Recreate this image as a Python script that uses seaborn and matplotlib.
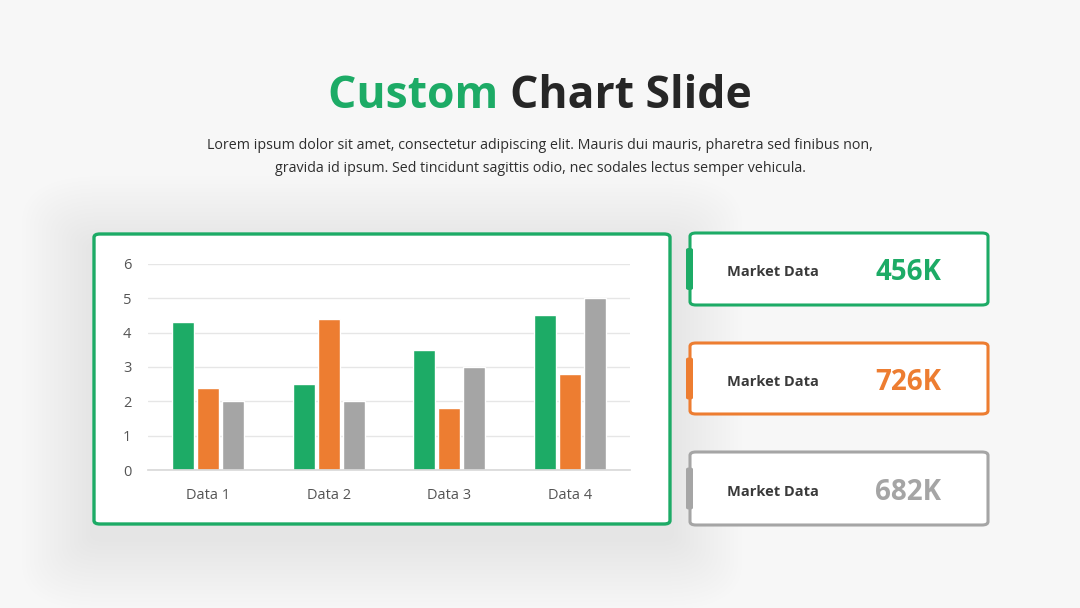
import seaborn as sns
import matplotlib.pyplot as plt
import pandas as pd
from matplotlib.patches import FancyBboxPatch

# data
categories = ['Data 1', 'Data 2', 'Data 3', 'Data 4']
series_names = ['Series 1', 'Series 2', 'Series 3']
series_1 = [4.3, 2.5, 3.5, 4.5]
series_2 = [2.4, 4.4, 1.8, 2.8]
series_3 = [2.0, 2.0, 3.0, 5.0]
card_labels = ['Market Data', 'Market Data', 'Market Data']
card_values = ['456K', '726K', '682K']

GREEN = '#1dab66'
ORANGE = '#ed7d31'
GRAY = '#a5a5a5'
colors = [GREEN, ORANGE, GRAY]

df = pd.DataFrame({
    'category': categories * 3,
    'series': [s for s in series_names for _ in categories],
    'value': series_1 + series_2 + series_3,
})

sns.set_theme(style='white')
plt.rcParams['font.family'] = ['Open Sans', 'DejaVu Sans']

W, H = 1080, 608
fig = plt.figure(figsize=(W / 100, H / 100), dpi=100)
fig.patch.set_facecolor('#f7f7f7')


def px(x, y):
    return x / W, 1 - y / H


def box(x0, y0, x1, y1, edge, lw=2.2, face='white', z=1, alpha=1.0, pad=6):
    p = FancyBboxPatch(px(x0, y1), (x1 - x0) / W, (y1 - y0) / H,
                       boxstyle=f'round,pad=0,rounding_size={pad / W}',
                       transform=fig.transFigure, facecolor=face,
                       edgecolor=edge, linewidth=lw, zorder=z, alpha=alpha)
    fig.patches.append(p)


# very soft shadow behind the chart card
for i in range(18):
    g = 4 + i * 4
    box(94 - g, 234 - g + 14, 670 + g, 524 + g + 14, 'none', lw=0,
        face='#000000', alpha=0.0035, pad=10 + g)

# chart card
box(94, 234, 670, 524, GREEN, lw=2.4, z=2)

# stat cards
card_rows = [(233, 305), (343, 414), (452, 525)]
for (y0, y1), c, lab, val in zip(card_rows, colors, card_labels, card_values):
    box(690, y0, 988, y1, c, lw=2.2, z=2)
    yc = (y0 + y1) / 2
    tab = FancyBboxPatch(px(686, yc + 21), 7 / W, 42 / H,
                         boxstyle=f'round,pad=0,rounding_size={3 / W}',
                         transform=fig.transFigure, facecolor=c,
                         edgecolor='none', zorder=3)
    fig.patches.append(tab)
    fig.text(*px(727, yc + 3), lab, fontsize=10.5, fontweight='bold',
             color='#3a3a3a', ha='left', va='center', zorder=4)
    fig.text(*px(941, yc + 4), val, fontsize=20, fontweight='bold',
             color=c, ha='right', va='center', zorder=4)

# bar chart
ax = fig.add_axes([148 / W, 1 - 470 / H, 482 / W, 206 / H])
ax.set_facecolor('white')
ax.set_zorder(5)
sns.barplot(data=df, x='category', y='value', hue='series',
            palette=colors, width=0.62, gap=0.12, saturation=1,
            legend=False, ax=ax)
ax.set_xlim(-0.5, 3.5)
ax.set_ylim(0, 6)
ax.set_yticks(range(0, 7))
ax.grid(axis='y', color='#e6e6e6', linewidth=1)
ax.set_axisbelow(True)
for s in ['top', 'right', 'left']:
    ax.spines[s].set_visible(False)
ax.spines['bottom'].set_color('#d9d9d9')
ax.tick_params(axis='both', length=0, labelsize=10.5, labelcolor='#555555')
ax.tick_params(axis='x', pad=13)
ax.tick_params(axis='y', pad=12)
ax.set_xlabel('')
ax.set_ylabel('')

# title in two colours, centred together
r = fig.canvas.get_renderer()
t1 = fig.text(0, 1 - 97 / H, 'Custom ', fontsize=32, fontweight='bold',
              color=GREEN, ha='left', va='center')
t2 = fig.text(0, 1 - 97 / H, 'Chart Slide', fontsize=32, fontweight='bold',
              color='#262626', ha='left', va='center')
w1 = t1.get_window_extent(r).width
w2 = t2.get_window_extent(r).width
x0 = (W - w1 - w2) / 2
t1.set_x(x0 / W)
t2.set_x((x0 + w1) / W)

fig.text(0.5, 1 - 146 / H,
         'Lorem ipsum dolor sit amet, consectetur adipiscing elit. Mauris dui mauris, pharetra sed finibus non,',
         fontsize=10.3, color='#2e2e2e', ha='center', va='center')
fig.text(0.5, 1 - 168 / H,
         'gravida id ipsum. Sed tincidunt sagittis odio, nec sodales lectus semper vehicula.',
         fontsize=10.3, color='#2e2e2e', ha='center', va='center')

fig.savefig('out.png', dpi=100, facecolor=fig.get_facecolor())
